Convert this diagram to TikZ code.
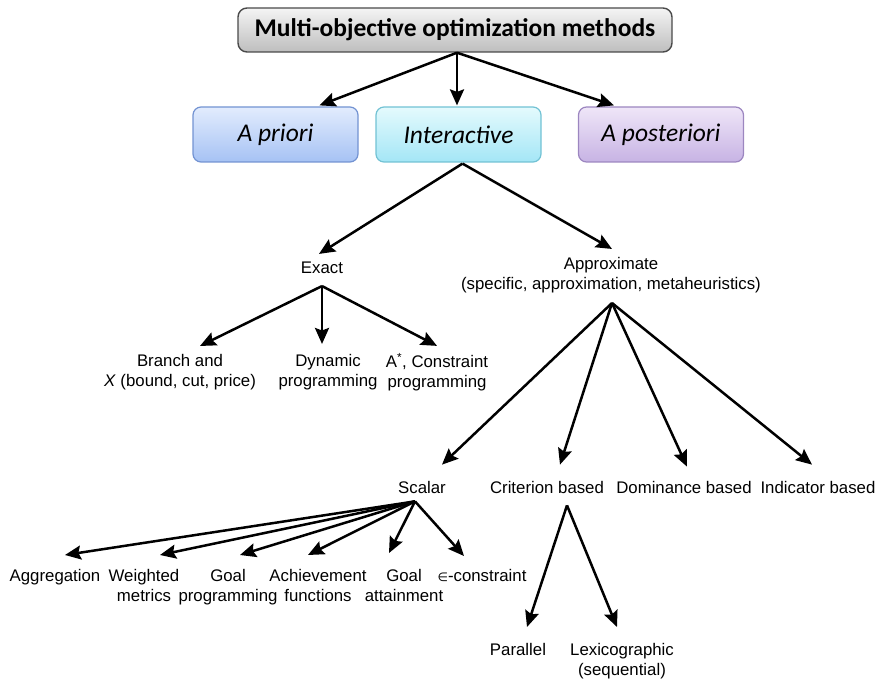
\documentclass[tikz,border=0pt]{standalone}
\usepackage{fontspec}
\setmainfont{Liberation Sans}
\newfontfamily\calfont{Carlito}
\usetikzlibrary{arrows.meta,calc}

\definecolor{grayTop}{HTML}{F4F4F4}
\definecolor{grayBot}{HTML}{BEBEBE}
\definecolor{grayLine}{HTML}{4A4A4A}
\definecolor{blueTop}{HTML}{E2ECFD}
\definecolor{blueBot}{HTML}{A6C2F4}
\definecolor{blueLine}{HTML}{7393D2}
\definecolor{cyanTop}{HTML}{E4FAFD}
\definecolor{cyanBot}{HTML}{A4E6F6}
\definecolor{cyanLine}{HTML}{72C2D4}
\definecolor{purpTop}{HTML}{EFE6F8}
\definecolor{purpBot}{HTML}{C7B3E4}
\definecolor{purpLine}{HTML}{9C86C0}

\tikzset{
  methodbox/.style={draw, line width=1.2pt, rounded corners=8pt,
    minimum width=165pt, minimum height=55pt, inner sep=0pt,
    font=\calfont\fontsize{25.5}{29}\selectfont\itshape},
  titlebox/.style={draw=grayLine, line width=1.4pt, rounded corners=9pt,
    top color=grayTop, bottom color=grayBot,
    minimum width=434pt, minimum height=44pt, inner sep=0pt,
    font=\calfont\bfseries\fontsize{25.5}{29}\selectfont},
  lbl/.style={align=center, inner sep=0pt,
    font=\fontsize{16.8}{20}\selectfont},
  arr/.style={line width=2.5pt, -{Stealth[length=16pt,width=14pt,inset=2.5pt]}}
}

\begin{document}
\begin{tikzpicture}[x=1pt,y=-1pt]
\useasboundingbox (0,0) rectangle (876,682);

% header and the three families of methods
\node[titlebox] (title) at (455,30) {Multi-objective optimization methods};
\node[methodbox, draw=blueLine, top color=blueTop, bottom color=blueBot]
  (apriori) at (275.5,134.5) {A priori};
\node[methodbox, draw=cyanLine, top color=cyanTop, bottom color=cyanBot]
  (inter) at (458.5,134.5) {Interactive};
\node[methodbox, draw=purpLine, top color=purpTop, bottom color=purpBot]
  (apost) at (661,134.5) {A posteriori};

% second level
\node[lbl] (exact) at (322,268) {Exact};
\node[lbl] (approx) at (611,275) {Approximate\\(specific, approximation, metaheuristics)};

% exact methods
\node[lbl] (branch) at (180,372) {Branch and\\\textit{X} (bound, cut, price)};
\node[lbl] (dyn) at (328,372) {Dynamic\\programming};
\node[lbl] (astar) at (437,372) {A\textsuperscript{*}, Constraint\\programming};

% approximate methods
\node[lbl] (scalar) at (422,487) {Scalar};
\node[lbl] (crit) at (547,487) {Criterion based};
\node[lbl] (dom) at (684,487) {Dominance based};
\node[lbl] (ind) at (818,487) {Indicator based};

% scalar methods
\node[lbl, anchor=north] (aggr) at (55,569) {Aggregation};
\node[lbl, anchor=north] (wmet) at (144,569) {Weighted\\metrics};
\node[lbl, anchor=north] (gprog) at (228,569) {Goal\\programming};
\node[lbl, anchor=north] (achf) at (318,569) {Achievement\\functions};
\node[lbl, anchor=north] (gatt) at (404,569) {Goal\\attainment};
\node[lbl, anchor=north] (eps) at (482,569) {\fontspec{DejaVu Sans}\fontsize{12}{20}\selectfont∈\fontspec{Liberation Sans}\fontsize{16.8}{20}\selectfont-constraint};

% criterion-based methods
\node[lbl, anchor=north] (par) at (518,643) {Parallel};
\node[lbl, anchor=north] (lex) at (622,643) {Lexicographic\\(sequential)};

% branching points
\coordinate (tB) at ($(title.south)+(2,0)$);
\coordinate (iB) at ($(inter.south)+(4,1)$);
\coordinate (eB) at ($(exact.south)+(0,12)$);
\coordinate (aB) at ($(approx.south)+(1,10)$);
\coordinate (sB) at ($(scalar.south)+(-7,8)$);
\coordinate (cB) at ($(crit.south)+(20,12)$);

% connectors
\draw[arr] (tB) -- ($(apriori.north)+(44,-1)$);
\draw[arr] (tB) -- ($(inter.north)+(-1.5,-1)$);
\draw[arr] (tB) -- ($(apost.north)+(-47,-1)$);

\draw[arr] (iB) -- ($(exact.north)+(-3,-8)$);
\draw[arr] (iB) -- ($(approx.north)+(1,-8)$);

\draw[arr] (eB) -- ($(branch.north)+(20,-8)$);
\draw[arr] (eB) -- ($(dyn.north)+(-6,-10)$);
\draw[arr] (eB) -- ($(astar.north)+(0,-7)$);

\draw[arr] (aB) -- ($(scalar.north)+(20,-16)$);
\draw[arr] (aB) -- ($(crit.north)+(13,-16)$);
\draw[arr] (aB) -- ($(dom.north)+(3,-14)$);
\draw[arr] (aB) -- ($(ind.north)+(-6,-16)$);

\draw[arr] (sB) -- ($(aggr.north)+(10,-14)$);
\draw[arr] (sB) -- ($(wmet.north)+(16,-14)$);
\draw[arr] (sB) -- ($(gprog.north)+(12,-14)$);
\draw[arr] (sB) -- ($(achf.north)+(-10,-14)$);
\draw[arr] (sB) -- ($(gatt.north)+(-15,-16)$);
\draw[arr] (sB) -- ($(eps.north)+(-18,-13)$);

\draw[arr] (cB) -- ($(par.north)+(9,-16)$);
\draw[arr] (cB) -- ($(lex.north)+(-5,-16)$);
\end{tikzpicture}
\end{document}
